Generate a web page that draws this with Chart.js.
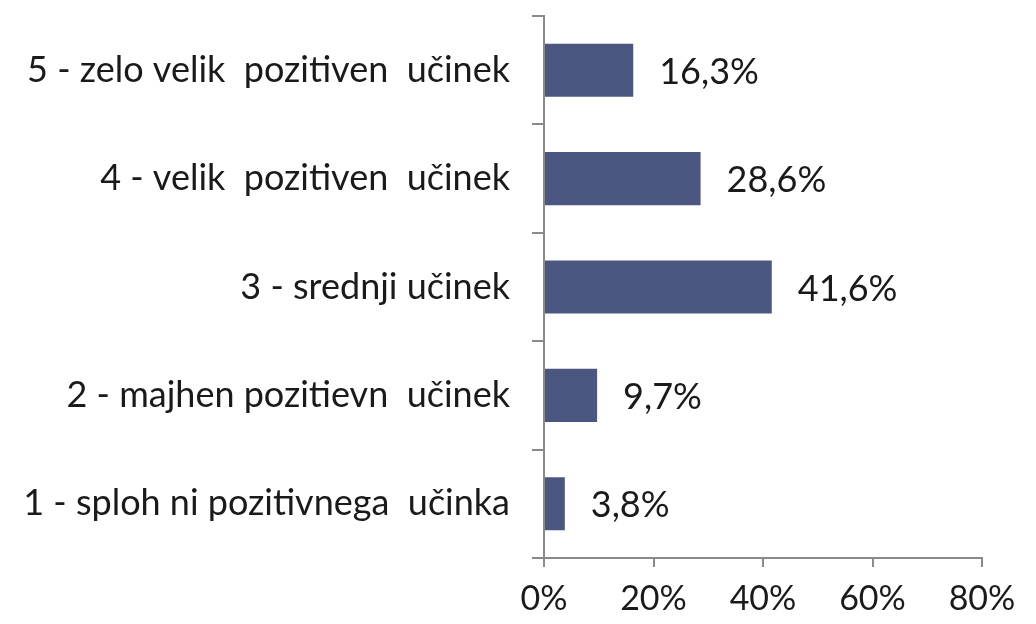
<!DOCTYPE html>
<html>
<head>
<meta charset="utf-8">
<script src="https://cdn.jsdelivr.net/npm/chart.js@4"></script>
<style>
  html, body { margin: 0; padding: 0; background: #fff; }
  #wrap { width: 1036px; height: 624px; }
</style>
</head>
<body>
<div id="wrap"><canvas id="chart"></canvas></div>
<script>
'use strict';

// ─── Data ─────────────────────────────────────────────────────────────────────
const categories = [
  '5 - zelo velik  pozitiven  učinek',
  '4 - velik  pozitiven  učinek',
  '3 - srednji učinek',
  '2 - majhen pozitievn  učinek',
  '1 - sploh ni pozitivnega  učinka',
];
const values = [16.3, 28.6, 41.6, 9.7, 3.8];
const xTicks = [0, 20, 40, 60, 80];

const FONT = 'Lato, "Noto Sans", sans-serif';
const TEXT = '#1a1a1a';
const AXIS = '#8a8a8a';

// value labels at the end of each bar
const barLabels = {
  id: 'barLabels',
  afterDatasetsDraw(chart) {
    const { ctx } = chart;
    const meta = chart.getDatasetMeta(0);
    ctx.save();
    ctx.font = `36px ${FONT}`;
    ctx.fillStyle = TEXT;
    ctx.textAlign = 'left';
    ctx.textBaseline = 'middle';
    meta.data.forEach((bar, i) => {
      ctx.fillText(values[i].toFixed(1).replace('.', ',') + '%', bar.x + 26, bar.y + 2);
    });
    ctx.restore();
  },
};

new Chart(document.getElementById('chart'), {
  type: 'bar',
  data: {
    labels: categories,
    datasets: [{
      data: values,
      backgroundColor: '#4b5781',
      borderWidth: 0,
      barPercentage: 0.49,
      categoryPercentage: 1,
    }],
  },
  options: {
    indexAxis: 'y',
    responsive: true, maintainAspectRatio: false,
    animation: false,
    layout: { padding: { top: 16, right: 54, bottom: 0, left: 0 } },
    plugins: { legend: { display: false }, tooltip: { enabled: false } },
    scales: {
      x: {
        min: 0, max: 80,
        afterBuildTicks: (s) => { s.ticks = xTicks.map(v => ({ value: v })); },
        afterFit: (s) => { s.height = 66; s.paddingLeft = 0; s.paddingRight = 0; },
        border: { color: AXIS, width: 2 },
        grid: { drawOnChartArea: false, tickLength: 9, color: AXIS, lineWidth: 2 },
        ticks: { color: TEXT, font: { family: FONT, size: 34 }, padding: 12, callback: v => v + '%' },
      },
      y: {
        afterFit: (s) => { s.width = 544; s.paddingTop = 0; s.paddingBottom = 0; },
        border: { color: AXIS, width: 2 },
        grid: { offset: true, drawOnChartArea: false, tickLength: 12, color: AXIS, lineWidth: 2 },
        ticks: { color: TEXT, font: { family: FONT, size: 36 }, padding: 22 },
      },
    },
  },
  plugins: [barLabels],
});
</script>
</body>
</html>
